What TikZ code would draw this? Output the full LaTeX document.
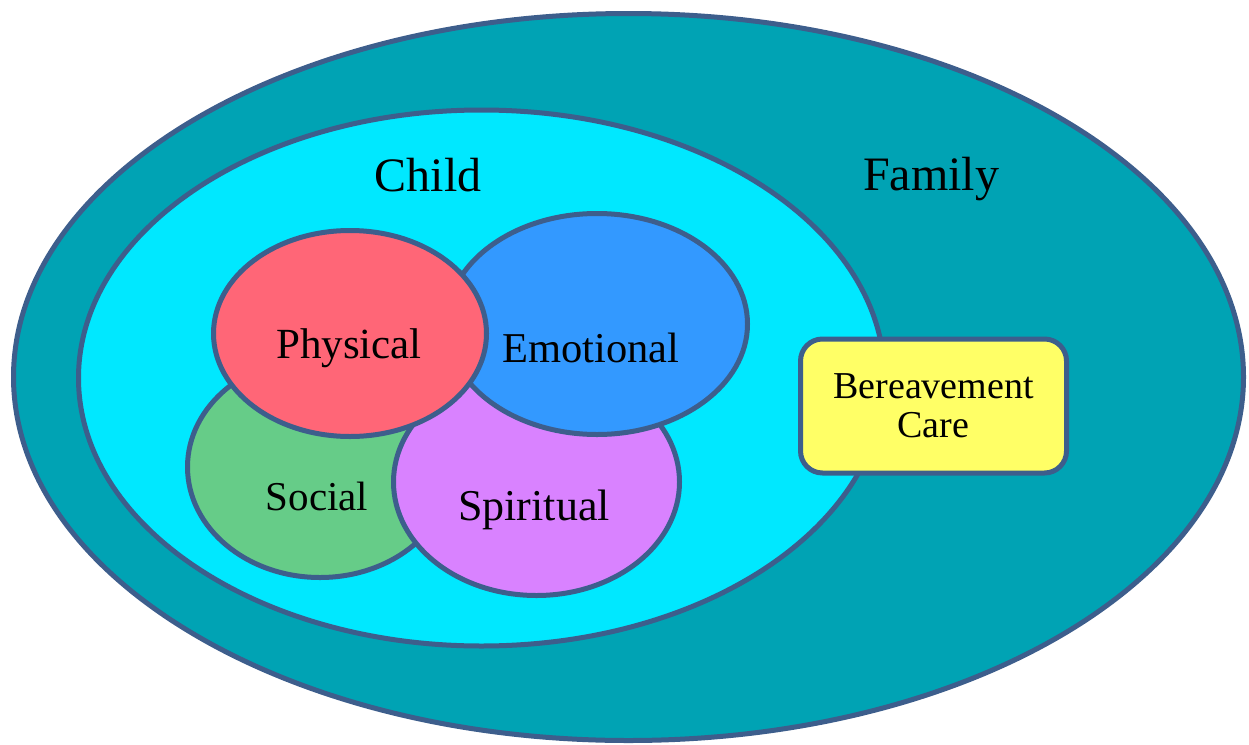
\documentclass[tikz,border=0pt]{standalone}
\usepackage{fontspec}
\setmainfont{Liberation Serif}
\usetikzlibrary{shapes.geometric}
\definecolor{edgecol}{HTML}{3D5E8C}
\definecolor{famcol}{HTML}{00A3B4}
\definecolor{childcol}{HTML}{00E8FF}
\definecolor{physcol}{HTML}{FF6677}
\definecolor{emocol}{HTML}{3399FF}
\definecolor{soccol}{HTML}{66CC88}
\definecolor{spircol}{HTML}{D982FF}
\definecolor{carecol}{HTML}{FFFF66}
\begin{document}
\begin{tikzpicture}[x=1pt,y=-1pt,
  blob/.style={ellipse, draw=edgecol, line width=5pt, inner sep=0pt, outer sep=0pt},
  lbl/.style={anchor=base, inner sep=0pt, text=black},
  carebox/.style={rectangle, rounded corners=22pt, draw=edgecol, line width=5pt, fill=carecol,
    inner sep=0pt, align=center, font=\fontsize{38}{39}\selectfont}]
\useasboundingbox (0,0) rectangle (1249,744);
\node[blob, fill=famcol, minimum width=1230pt, minimum height=727pt] (family) at (628.5,377) {};
\node[blob, fill=childcol, minimum width=806pt, minimum height=536pt] (child) at (481.5,378) {};
\node[carebox, minimum width=266pt, minimum height=134pt] (care) at (933.5,406) {Bereavement\\Care};
\node[blob, fill=soccol, minimum width=265pt, minimum height=221pt] (social) at (320,467) {};
\node[blob, fill=spircol, minimum width=286pt, minimum height=227pt] (spiritual) at (536.5,482) {};
\node[blob, fill=emocol, minimum width=301pt, minimum height=221pt] (emotional) at (597,324) {};
\node[blob, fill=physcol, minimum width=273pt, minimum height=206pt] (physical) at (350,333.5) {};
\node[lbl, font=\fontsize{48}{58}\selectfont] (childlbl) at (428,191) {Child};
\node[lbl, font=\fontsize{48}{58}\selectfont] (familylbl) at (931,190) {Family};
\node[lbl, font=\fontsize{43}{50}\selectfont] (physlbl) at (349,358) {Physical};
\node[lbl, font=\fontsize{42.5}{50}\selectfont] (emolbl) at (591,362) {Emotional};
\node[lbl, font=\fontsize{41}{50}\selectfont] (soclbl) at (317,510) {Social};
\node[lbl, font=\fontsize{44}{50}\selectfont] (spirlbl) at (534,520) {Spiritual};
\end{tikzpicture}
\end{document}
